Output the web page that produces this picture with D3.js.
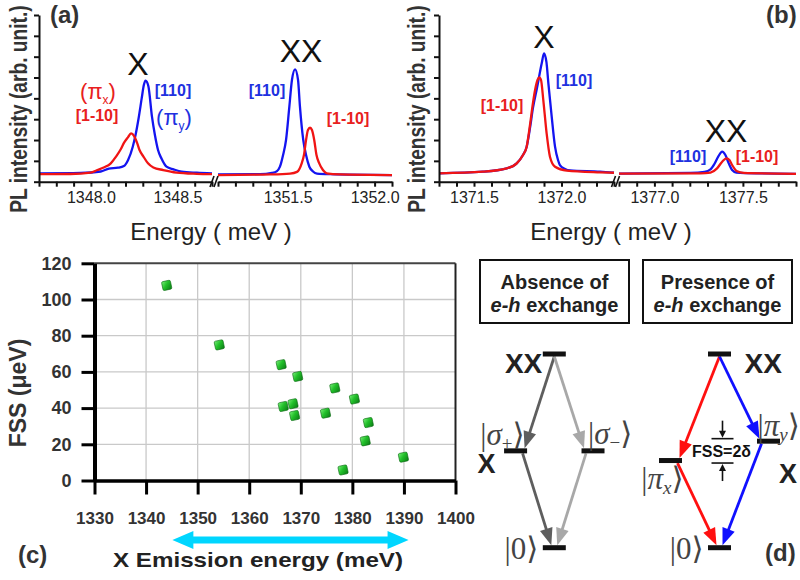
<!DOCTYPE html>
<html><head><meta charset="utf-8">
<script src="https://cdn.jsdelivr.net/npm/d3@7"></script>
<style>
body{margin:0;background:#fff;}
svg{display:block;}
text{font-family:"Liberation Sans",Arial,Helvetica,sans-serif;}
</style></head><body>
<svg id="c" width="800" height="580"></svg>
<script>
// ================= DATA =================
// Panel (a): exciton X (left segment) and biexciton XX (right segment)
const aX_blueE = [1347.700,1347.940,1348.057,1348.104,1348.156,1348.191,1348.215,1348.242,1348.258,1348.276,1348.294,1348.306,1348.316,1348.332,1348.353,1348.370,1348.388,1348.408,1348.437,1348.478,1348.525,1348.612,1348.700];
const aX_blueI = [0.40,0.42,0.49,0.63,0.67,0.75,1.04,1.68,2.24,3.06,4.02,4.64,4.85,4.59,3.12,2.24,1.52,1.11,0.72,0.59,0.48,0.43,0.40];
const aX_redE  = [1347.700,1347.881,1347.998,1348.037,1348.074,1348.115,1348.144,1348.170,1348.191,1348.215,1348.232,1348.250,1348.267,1348.281,1348.302,1348.330,1348.361,1348.418,1348.495,1348.612,1348.700];
const aX_redI  = [0.36,0.37,0.44,0.56,0.68,0.88,1.19,1.52,1.86,2.14,2.32,2.19,1.86,1.52,1.23,0.88,0.68,0.56,0.44,0.38,0.36];
const aXX_blueE = [1351.100,1351.341,1351.410,1351.439,1351.456,1351.474,1351.491,1351.510,1351.525,1351.543,1351.560,1351.571,1351.590,1351.606,1351.625,1351.646,1351.669,1351.744,1352.100];
const aXX_blueI = [0.35,0.36,0.42,0.51,0.72,1.28,2.00,3.60,4.88,5.39,4.88,3.60,2.00,1.28,0.72,0.49,0.39,0.36,0.32];
const aXX_redE  = [1351.100,1351.399,1351.514,1351.554,1351.581,1351.594,1351.606,1351.617,1351.629,1351.640,1351.653,1351.666,1351.682,1351.703,1351.725,1351.801,1352.100];
const aXX_redI  = [0.32,0.35,0.39,0.47,0.88,1.28,2.00,2.48,2.59,2.48,2.00,1.28,0.88,0.56,0.40,0.35,0.32];
// Panel (b)
const bX_blueE = [1371.300,1371.551,1371.687,1371.744,1371.780,1371.801,1371.820,1371.837,1371.860,1371.887,1371.900,1371.914,1371.925,1371.944,1371.963,1371.980,1371.991,1372.020,1372.049,1372.220,1372.300];
const bX_blueI = [0.40,0.48,0.64,0.88,1.28,1.68,2.58,3.54,4.50,5.68,6.16,5.74,4.72,3.12,1.68,1.04,0.80,0.61,0.54,0.48,0.43];
const bX_redE  = [1371.300,1371.551,1371.687,1371.744,1371.780,1371.801,1371.820,1371.837,1371.849,1371.863,1371.873,1371.883,1371.896,1371.915,1371.934,1371.963,1372.030,1372.220,1372.300];
const bX_redI  = [0.40,0.48,0.64,0.88,1.28,1.68,2.72,3.78,4.40,4.88,5.01,4.88,3.92,2.32,1.20,0.72,0.53,0.45,0.43];
const bXX_blueE = [1376.800,1377.204,1377.283,1377.317,1377.339,1377.362,1377.383,1377.401,1377.420,1377.439,1377.463,1377.598,1377.800];
const bXX_blueI = [0.39,0.42,0.47,0.59,0.85,1.23,1.44,1.28,0.88,0.56,0.44,0.40,0.38];
const bXX_redE  = [1376.800,1377.261,1377.317,1377.354,1377.383,1377.407,1377.424,1377.439,1377.467,1377.504,1377.800];
const bXX_redI  = [0.39,0.40,0.44,0.64,0.96,1.12,1.04,0.80,0.50,0.42,0.38];

// axis segments / tick labels for spectra
const aSegDomains = [[1347.7,1348.7],[1351.1,1352.1]];
const bSegDomains = [[1371.3,1372.3],[1376.8,1377.8]];
const aTickLabels = ["1348.0","1348.5","1351.5","1352.0"];
const bTickLabels = ["1371.5","1372.0","1377.0","1377.5"];
const specYDomain = [0,8];

// Panel (c): FSS vs X emission energy
const fssEnergy = [1344.0,1354.2,1366.2,1369.4,1376.6,1380.4,1366.6,1368.5,1368.8,1374.8,1383.1,1382.5,1378.2,1389.9];
const fssValue  = [107.8,74.9,64.0,57.5,51.1,45.0,40.9,42.4,35.9,37.2,32.0,21.9,5.8,12.9];
const cXTicks = [1330,1340,1350,1360,1370,1380,1390,1400];
const cYTicks = [0,20,40,60,80,100,120];
const cArrowRange = [1345.1,1390.9];

// Panel (d): level scheme
const levelName    = ["XX","σ+","σ−","0","XX","πx","πy","0"];
const levelDiagram = [0,0,0,0,1,1,1,1];
const levelSide    = [0,-0.79,0.79,0,0,-1,1,0];
const levelEnergy  = [2,1,1,0,2,0.9,1.1,0];
const transFrom  = [0,0,1,2,4,4,5,6];
const transTo    = [1,2,3,3,5,6,7,7];
const transColor = ["#5e5e5e","#a8a8a8","#5e5e5e","#a8a8a8","#ff1010","#1010ff","#ff1010","#1010ff"];

// ================= DRAW =================
const svg = d3.select("#c");
const BLUE = "#1414f0", RED = "#f01414";
const BLUE_T = "#2030e0", RED_T = "#e82020";

function spectrumPanel(o) {
  const y = d3.scaleLinear().domain(specYDomain).range([181.7, 15]);
  const g = svg.append("g");
  const segs = o.domains.map((d, i) => d3.scaleLinear().domain(d).range(o.ranges[i]));
  o.curves.forEach(c => {
    const xs = segs[c.seg];
    const pts = c.E.map((e, i) => [e, c.I[i]]);
    g.append("path").datum(pts)
      .attr("fill", "none").attr("stroke", c.color).attr("stroke-width", 2.3)
      .attr("stroke-linejoin", "round")
      .attr("d", d3.line().x(d => xs(d[0])).y(d => y(d[1])).curve(d3.curveMonotoneX));
  });
  g.append("g").attr("transform", `translate(${o.ranges[0][0]},0)`)
    .call(d3.axisLeft(y).tickValues(d3.range(0, 9)).tickSize(5).tickSizeOuter(0).tickFormat(""))
    .call(a => a.selectAll("path,line").attr("stroke", "#111").attr("stroke-width", 2));
  segs.forEach(xs => {
    const d = xs.domain();
    const ticks = d3.range(0, 11).map(k => +(d[0] + k * 0.1).toFixed(2));
    const ax = d3.axisBottom(xs).tickValues(ticks).tickSize(5).tickSizeOuter(0).tickPadding(5)
      .tickFormat(v => o.labels.find(l => Math.abs(+l - v) < 1e-6) || "");
    g.append("g").attr("transform", "translate(0,181.7)").call(ax)
      .call(a => a.selectAll("path,line").attr("stroke", "#111").attr("stroke-width", 2))
      .call(a => a.selectAll("text").attr("font-size", 16).attr("fill", "#222")
        .style("font-family", '"Liberation Sans",Arial,sans-serif'));
  });
  const mid = (o.ranges[0][1] + o.ranges[1][0]) / 2;
  [-3, 1].forEach(dx => {
    g.append("line").attr("x1", mid + dx - 2).attr("y1", 187).attr("x2", mid + dx + 2).attr("y2", 176)
      .attr("stroke", "#111").attr("stroke-width", 1.6);
  });
  g.append("text").attr("transform", `translate(${o.ylabX},109) rotate(-90) scale(1,1.2)`)
    .attr("text-anchor", "middle").attr("font-size", 19.2).attr("font-weight", "bold").attr("fill", "#333")
    .text("PL intensity (arb. unit.)");
  g.append("text").attr("x", o.xlabX).attr("y", 240).attr("text-anchor", "middle")
    .attr("font-size", 24).attr("fill", "#222").text("Energy ( meV )");
  return g;
}

const ga = spectrumPanel({
  domains: aSegDomains, ranges: [[39, 212], [218, 392]], labels: aTickLabels,
  ylabX: 27, xlabX: 211,
  curves: [
    {seg: 0, E: aX_blueE, I: aX_blueI, color: BLUE},
    {seg: 0, E: aX_redE, I: aX_redI, color: RED},
    {seg: 1, E: aXX_blueE, I: aXX_blueI, color: BLUE},
    {seg: 1, E: aXX_redE, I: aXX_redI, color: RED}
  ]
});
const gb = spectrumPanel({
  domains: bSegDomains, ranges: [[439, 614], [619, 796]], labels: bTickLabels,
  ylabX: 425, xlabX: 611,
  curves: [
    {seg: 0, E: bX_blueE, I: bX_blueI, color: BLUE},
    {seg: 0, E: bX_redE, I: bX_redI, color: RED},
    {seg: 1, E: bXX_blueE, I: bXX_blueI, color: BLUE},
    {seg: 1, E: bXX_redE, I: bXX_redI, color: RED}
  ]
});

function txt(g, x, y, s, size, color, opts = {}) {
  const t = g.append("text").attr("x", x).attr("y", y).attr("font-size", size).attr("fill", color)
    .attr("text-anchor", opts.anchor || "middle").attr("font-weight", opts.weight || "normal");
  if (opts.italic) t.attr("font-style", "italic");
  t.text(s);
  return t;
}
function piLabel(g, x, y, sub, color) {
  const t = g.append("text").attr("x", x).attr("y", y).attr("font-size", 22).attr("fill", color)
    .attr("text-anchor", "middle");
  t.append("tspan").text("(π");
  t.append("tspan").attr("dy", 5).attr("font-size", 12).text(sub);
  t.append("tspan").attr("dy", -5).text(")");
}
txt(ga, 50, 23, "(a)", 24, "#333", {anchor: "start", weight: "bold"});
txt(ga, 138, 75, "X", 32, "#111");
txt(ga, 301, 62, "XX", 32, "#111");
piLabel(ga, 98, 99, "x", RED_T);
txt(ga, 97, 121, "[1-10]", 16, RED_T, {weight: "bold"});
txt(ga, 173, 96, "[110]", 16, BLUE_T, {weight: "bold"});
piLabel(ga, 174, 125, "y", BLUE_T);
txt(ga, 267, 96, "[110]", 16, BLUE_T, {weight: "bold"});
txt(ga, 348, 124, "[1-10]", 16, RED_T, {weight: "bold"});
txt(gb, 766, 23, "(b)", 24, "#333", {anchor: "start", weight: "bold"});
txt(gb, 544, 48, "X", 32, "#111");
txt(gb, 726, 142, "XX", 32, "#111");
txt(gb, 574, 86, "[110]", 16, BLUE_T, {weight: "bold"});
txt(gb, 502, 111, "[1-10]", 16, RED_T, {weight: "bold"});
txt(gb, 688, 162, "[110]", 16, BLUE_T, {weight: "bold"});
txt(gb, 757, 162, "[1-10]", 16, RED_T, {weight: "bold"});

// ================= PANEL (c) =================
const gc = svg.append("g");
const cx = d3.scaleLinear().domain([1330, 1400]).range([94.5, 455.5]);
const cy = d3.scaleLinear().domain([0, 120]).range([480.5, 263.3]);
gc.selectAll("line.gx").data(cXTicks.slice(1, -1)).join("line")
  .attr("x1", d => cx(d)).attr("x2", d => cx(d)).attr("y1", cy(0)).attr("y2", cy(120))
  .attr("stroke", "#c9c9c9").attr("stroke-width", 1.3);
gc.selectAll("line.gy").data(cYTicks.slice(1, -1)).join("line")
  .attr("y1", d => cy(d)).attr("y2", d => cy(d)).attr("x1", cx(1330)).attr("x2", cx(1400))
  .attr("stroke", "#c9c9c9").attr("stroke-width", 1.3);
gc.append("line").attr("x1", cx(1330)).attr("x2", cx(1400)).attr("y1", cy(120)).attr("y2", cy(120))
  .attr("stroke", "#444").attr("stroke-width", 2);
gc.append("line").attr("x1", cx(1400)).attr("x2", cx(1400)).attr("y1", cy(120)).attr("y2", cy(0))
  .attr("stroke", "#222").attr("stroke-width", 2);
gc.append("g").attr("transform", `translate(${cx(1330)},0)`)
  .call(d3.axisLeft(cy).tickValues(cYTicks).tickSize(13).tickSizeOuter(0).tickPadding(10))
  .call(a => a.select("path").attr("stroke", "#000").attr("stroke-width", 4))
  .call(a => a.selectAll("line").attr("stroke", "#000").attr("stroke-width", 3))
  .call(a => a.selectAll("text").attr("font-size", 18).attr("font-weight", "bold").attr("fill", "#333")
    .style("font-family", '"Liberation Sans",Arial,sans-serif'));
gc.append("g").attr("transform", `translate(0,${cy(0)})`)
  .call(d3.axisBottom(cx).tickValues(cXTicks).tickSize(14).tickSizeOuter(0).tickPadding(17).tickFormat(d3.format("d")))
  .call(a => a.select("path").attr("stroke", "#000").attr("stroke-width", 3.5))
  .call(a => a.selectAll("line").attr("stroke", "#000").attr("stroke-width", 3))
  .call(a => a.selectAll("text").attr("font-size", 17).attr("font-weight", "bold").attr("fill", "#333")
    .style("font-family", '"Liberation Sans",Arial,sans-serif'));
const defs = svg.append("defs");
const grad = defs.append("linearGradient").attr("id", "gm").attr("x1", "0").attr("y1", "0").attr("x2", "1").attr("y2", "1");
grad.append("stop").attr("offset", "0").attr("stop-color", "#7af07a");
grad.append("stop").attr("offset", "0.45").attr("stop-color", "#22c02a");
grad.append("stop").attr("offset", "1").attr("stop-color", "#0a7a14");
gc.selectAll("rect.pt").data(fssEnergy.map((e, i) => [e, fssValue[i]])).join("rect")
  .attr("x", -4.5).attr("y", -4.5).attr("width", 9).attr("height", 9).attr("rx", 1.5)
  .attr("transform", d => `translate(${cx(d[0])},${cy(d[1])}) rotate(-12)`)
  .attr("fill", "url(#gm)").attr("stroke", "#0b6a12").attr("stroke-width", 0.6);
(function () {
  const x1 = cx(cArrowRange[0]), x2 = cx(cArrowRange[1]), y = 540, hl = 21, hw = 9, sw = 3.6;
  gc.append("path").attr("fill", "#00d6ff")
    .attr("d", `M${x1},${y} L${x1 + hl},${y - hw} L${x1 + hl},${y - sw} L${x2 - hl},${y - sw} L${x2 - hl},${y - hw} L${x2},${y} L${x2 - hl},${y + hw} L${x2 - hl},${y + sw} L${x1 + hl},${y + sw} L${x1 + hl},${y + hw} Z`);
})();
txt(gc, 258, 567, "X Emission energy (meV)", 21, "#222", {weight: "bold"}).attr("textLength", 290).attr("lengthAdjust", "spacingAndGlyphs");
gc.append("text").attr("transform", "translate(26,393) rotate(-90)").attr("text-anchor", "middle")
  .attr("font-size", 23).attr("font-weight", "bold").attr("fill", "#333").text("FSS (μeV)");
txt(gc, 18, 563, "(c)", 24, "#333", {anchor: "start", weight: "bold"});

// ================= PANEL (d) =================
const gd = svg.append("g");
const diagX = d3.scaleLinear().domain([0, 1]).range([554.3, 719.5]);
const sideX = d3.scaleLinear().domain([-1, 1]).range([-49, 49]);
const levelY = d3.scaleLinear().domain([0, 2]).range([547.7, 354]);
const LX = i => diagX(levelDiagram[i]) + sideX(levelSide[i]);
const LY = i => levelY(levelEnergy[i]);

[[480, "Absence of"], [643, "Presence of"]].forEach(([x, s]) => {
  gd.append("rect").attr("x", x).attr("y", 260).attr("width", 149).attr("height", 63)
    .attr("fill", "#fff").attr("stroke", "#111").attr("stroke-width", 2);
  txt(gd, x + 74.5, 289, s, 20, "#222", {weight: "bold"});
  const t = gd.append("text").attr("x", x + 74.5).attr("y", 312).attr("text-anchor", "middle")
    .attr("font-size", 20).attr("font-weight", "bold").attr("fill", "#222");
  t.append("tspan").attr("font-style", "italic").text("e-h");
  t.append("tspan").text(" exchange");
});

function arrow(g, x1, y1, x2, y2, color, hl, hw, sw) {
  const dx = x2 - x1, dy = y2 - y1, L = Math.hypot(dx, dy), ux = dx / L, uy = dy / L;
  const bx = x2 - ux * hl, by = y2 - uy * hl;
  g.append("line").attr("x1", x1).attr("y1", y1).attr("x2", bx + ux * 2).attr("y2", by + uy * 2)
    .attr("stroke", color).attr("stroke-width", sw);
  g.append("path").attr("fill", color)
    .attr("d", `M${x2},${y2} L${bx - uy * hw},${by + ux * hw} L${bx + uy * hw},${by - ux * hw} Z`);
}
transFrom.forEach((f, k) => {
  const t = transTo[k];
  const s = Math.sign(LX(t) - LX(f));
  const x1 = LX(f) + (levelSide[f] !== 0 ? s * 7 : 0);
  const x2 = LX(t) - (levelSide[t] !== 0 ? s * 9 : s * 3);
  arrow(gd, x1, LY(f) + 2.5, x2, LY(t) - 2.5, transColor[k], 17, 6.5, 2.8);
});
gd.selectAll("rect.lv").data(d3.range(levelName.length)).join("rect")
  .attr("x", i => LX(i) - 11.5).attr("y", i => LY(i) - 2.5).attr("width", 23).attr("height", 5)
  .attr("fill", "#111");

function ket(x, y, sym, sub, anchor) {
  const t = gd.append("text").attr("x", x).attr("y", y).attr("text-anchor", anchor)
    .attr("font-size", 31).attr("fill", "#444").style("font-family", '"Liberation Serif","DejaVu Serif",serif');
  t.append("tspan").text("|");
  t.append("tspan").attr("font-style", sym === "0" ? "normal" : "italic").text(sym);
  if (sub) {
    t.append("tspan").attr("dy", 5).attr("font-size", 19).attr("font-style", sub === "x" || sub === "y" ? "italic" : "normal").text(sub);
    t.append("tspan").attr("dy", -5).text("⟩");
  } else t.append("tspan").text("⟩");
}
ket(LX(1) + 9, LY(1) - 6, "σ", "+", "end");
ket(LX(2) - 5, LY(2) - 7, "σ", "−", "start");
ket(LX(3) - 16, LY(3) + 11, "0", "", "end");
ket(LX(5) + 13, LY(5) + 28, "π", "x", "end");
ket(LX(6) - 11, LY(6) - 5, "π", "y", "start");
ket(LX(7) - 16, LY(7) + 11, "0", "", "end");
txt(gd, LX(0) - 12, LY(0) + 19, "XX", 28, "#222", {anchor: "end", weight: "bold"});
txt(gd, LX(4) + 25, LY(4) + 19, "XX", 28, "#222", {anchor: "start", weight: "bold"});
txt(gd, LX(1) - 29, LY(1) + 22, "X", 27, "#222", {weight: "bold"});
txt(gd, LX(6) + 19.5, LY(6) + 42, "X", 27, "#222", {weight: "bold"});
(function () {
  const xm = diagX(1) + 3, yTop = LY(6) - 2.5, yBot = LY(5) + 2.5;
  [yTop, yBot].forEach(yy => gd.append("line").attr("x1", xm - 11).attr("x2", xm + 11).attr("y1", yy).attr("y2", yy)
    .attr("stroke", "#111").attr("stroke-width", 1.6));
  arrow(gd, xm, yTop - 18, xm, yTop - 1, "#111", 7, 3.5, 1.6);
  arrow(gd, xm, yBot + 18, xm, yBot + 1, "#111", 7, 3.5, 1.6);
  txt(gd, xm - 1, (yTop + yBot) / 2 + 6, "FSS=2δ", 16, "#111", {weight: "bold"});
})();
txt(gd, 765, 561, "(d)", 24, "#333", {anchor: "start", weight: "bold"});
</script></body></html>
